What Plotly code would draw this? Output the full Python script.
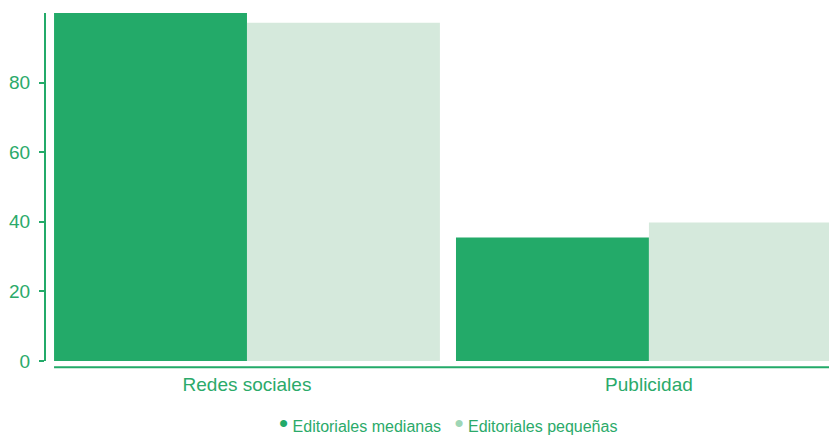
import plotly.graph_objects as go

# Survey results by publisher size
categories = ["Redes sociales", "Publicidad"]
medianas = [100, 35.5]
pequenas = [97.2, 39.8]
series_names = ["Editoriales medianas", "Editoriales pequeñas"]

y_ticks = [0, 20, 40, 60, 80]

GREEN = "#23AA69"
LIGHT = "#D5E9DC"
DOT_LIGHT = "#9ED6B6"
TEXT = "#2BAA6A"
FONT = "Liberation Sans, Arial, sans-serif"

fig = go.Figure()
fig.add_trace(go.Bar(x=categories, y=medianas, name=series_names[0],
                     marker=dict(color=GREEN, line=dict(width=0)), showlegend=False))
fig.add_trace(go.Bar(x=categories, y=pequenas, name=series_names[1],
                     marker=dict(color=LIGHT, line=dict(width=0)), showlegend=False))

# baseline under the bars
fig.add_shape(type="line", xref="x", yref="paper", x0=-0.48, x1=1.6,
              y0=-0.018, y1=-0.018, line=dict(color=GREEN, width=2))

# legend drawn as text with coloured bullets
bullet = "<span style='color:{c};font-size:26px'>•</span>"
legend_text = (f"{bullet.format(c=GREEN)} {series_names[0]}"
               f"&nbsp;&nbsp;&nbsp;{bullet.format(c=DOT_LIGHT)} {series_names[1]}")
fig.add_annotation(text=legend_text, xref="paper", yref="paper",
                   x=(277 - 46) / 783, y=(361 - 423) / 348,
                   xanchor="left", yanchor="middle", showarrow=False,
                   font=dict(family=FONT, size=16, color=TEXT))

fig.update_layout(
    width=829, height=439,
    margin=dict(l=46, r=0, t=13, b=78),
    paper_bgcolor="white", plot_bgcolor="white",
    barmode="group", bargap=0.04, bargroupgap=0,
    font=dict(family=FONT, color=TEXT),
    xaxis=dict(range=[-0.5, 1.448], showgrid=False, zeroline=False, showline=False,
               ticks="", tickfont=dict(size=19, color=TEXT), ticklabelstandoff=10),
    yaxis=dict(range=[0, 100], tickvals=y_ticks, showgrid=False, zeroline=False,
               showline=True, linecolor=GREEN, linewidth=2,
               ticks="outside", ticklen=5, tickwidth=1.5, tickcolor=GREEN,
               tickfont=dict(size=19, color=TEXT), ticklabelstandoff=5),
)

fig.write_html("out.html")
